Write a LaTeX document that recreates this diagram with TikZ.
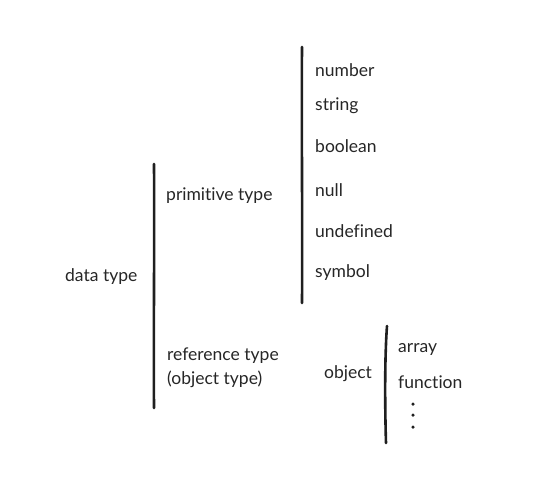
\documentclass[tikz,border=0pt]{standalone}
\usepackage{fontspec}
\setmainfont[Ligatures={NoCommon}]{Lato}
\begin{document}
\begin{tikzpicture}[x=1pt,y=-1pt,
  lbl/.style={anchor=west,inner sep=0pt,font=\fontsize{17.5}{24}\selectfont,text=black!85,yshift=-2pt},
  bar/.style={line width=2.6pt,line cap=round,draw=black!88},
  dotm/.style={circle,fill=black!88,inner sep=0pt,minimum size=3.5pt}]
\useasboundingbox (0,0) rectangle (550,499);
% bars
\coordinate (b1t) at (154,164); \coordinate (b1b) at (154,408);
\coordinate (b2t) at (302,47); \coordinate (b2b) at (302,303);
\coordinate (b3t) at (387,326); \coordinate (b3b) at (386,443);
\draw[bar] (b1t) .. controls (154.5,250) and (153.5,330) .. (b1b);
\draw[bar] (b2t) .. controls (301.5,130) and (302.5,220) .. (b2b);
\draw[bar] (b3t) .. controls (384.5,360) and (385,410) .. (b3b);
% labels
\node[lbl] (dt) at (65,275) {data type};
\node[lbl] (pt) at (166,194) {primitive type};
\node[lbl] (n1) at (315,68) {number};
\node[lbl] (n2) at (315,104) {string};
\node[lbl] (n3) at (315,144) {boolean};
\node[lbl] (n4) at (315,188) {null};
\node[lbl] (n5) at (315,229) {undefined};
\node[lbl] (n6) at (315,271) {symbol};
\node[lbl,align=left] (rt) at (167,366) {reference type\\(object type)};
\node[lbl] (ob) at (324,372) {object};
\node[lbl] (ar) at (398,347) {array};
\node[lbl] (fn) at (398,380) {function};
\node[dotm] (d1) at (413,404) {};
\node[dotm] (d2) at (413,415) {};
\node[dotm] (d3) at (413,427) {};
\end{tikzpicture}
\end{document}
